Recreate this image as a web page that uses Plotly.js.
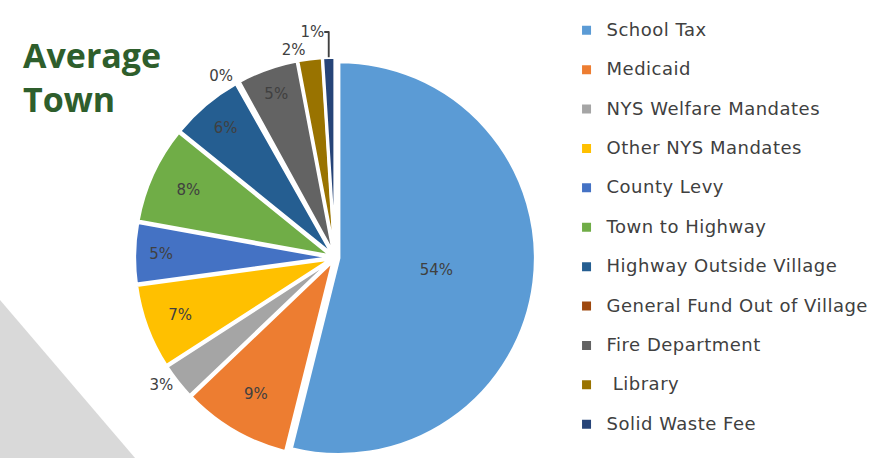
<!DOCTYPE html>
<html>
<head>
<meta charset="utf-8">
<script src="https://cdn.plot.ly/plotly-3.0.1.min.js"></script>
<style>html,body{margin:0;padding:0;background:#fff;}#chart{width:877px;height:458px;}</style>
</head>
<body>
<div id="chart"></div>
<script>
const categories = ["School Tax", "Medicaid", "NYS Welfare Mandates", "Other NYS Mandates", "County Levy", "Town to Highway", "Highway Outside Village", "General Fund Out of Village", "Fire Department", " Library", "Solid Waste Fee"];
const shares = [54, 9, 3, 7, 5, 8, 6, 0.2, 5, 2, 1];
const colors = ["#5B9BD5", "#ED7D31", "#A5A5A5", "#FFC000", "#4472C4", "#70AD47", "#255E91", "#9E480E", "#636363", "#997300", "#264478"];
const textPos = ["inside", "inside", "outside", "inside", "inside", "inside", "inside", "outside", "inside", "outside", "outside"];

const legendLabels = categories.map((c, i) =>
  "<span style='font-size:18px;letter-spacing:0.5px'>" + c + "</span>" + (i < categories.length - 1 ? "<br> " : ""));

const trace = {
  type: "pie",
  labels: legendLabels,
  values: shares,
  texttemplate: "%{percent:.0%}",
  textposition: textPos,
  insidetextorientation: "horizontal",
  sort: false,
  direction: "clockwise",
  rotation: 0,
  pull: 0.02,
  marker: { colors: colors, line: { color: "#ffffff", width: 3 } },
  textfont: { family: "DejaVu Sans, sans-serif", size: 15, color: "#404040" },
  outsidetextfont: { family: "DejaVu Sans, sans-serif", size: 15, color: "#404040" },
  domain: { x: [0.14, 0.624], y: [0, 0.875] },
  hoverinfo: "label+percent"
};

const layout = {
  width: 877, height: 458,
  margin: { l: 0, r: 0, t: 0, b: 0 },
  paper_bgcolor: "#ffffff",
  showlegend: true,
  legend: {
    x: 0.646, xanchor: "left", y: 0.968, yanchor: "top",
    valign: "top",
    font: { family: "DejaVu Sans, sans-serif", size: 14, color: "#404040" },
    itemwidth: 30
  },
  shapes: [{
    type: "path", xref: "paper", yref: "paper",
    path: "M 0 0.345 L 0.154 0 L 0 0 Z",
    fillcolor: "#D9D9D9", line: { width: 0 }, layer: "below"
  }],
  annotations: [{
    xref: "paper", yref: "paper", x: 0.024, y: 0.935, xanchor: "left", yanchor: "top",
    align: "left", showarrow: false,
    text: "<b>Average<br>Town</b>",
    font: { family: "Open Sans, sans-serif", size: 34, color: "#2E5E2C" }
  }]
};

Plotly.newPlot("chart", [trace], layout, { displayModeBar: false });
</script>
</body>
</html>
